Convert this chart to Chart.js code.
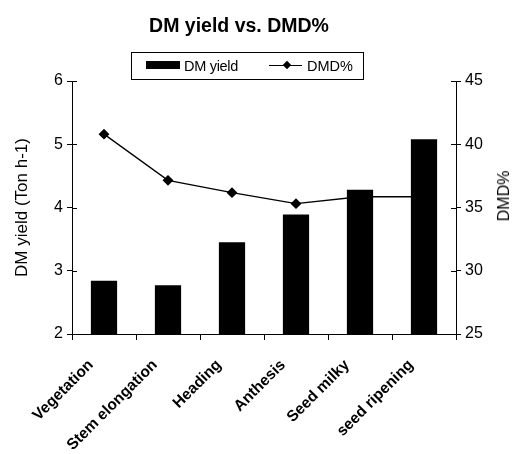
<!DOCTYPE html>
<html><head><meta charset="utf-8">
<script src="https://cdn.jsdelivr.net/npm/chart.js@4/dist/chart.umd.min.js"></script>
<style>
html,body{margin:0;padding:0;background:#fff;}
#wrap{position:relative;width:513px;height:454px;}
#title{position:absolute;left:239px;top:25px;transform:translate(-50%,-50%);font:bold 19.5px "Liberation Sans",Arial,sans-serif;color:#000;white-space:nowrap;line-height:22px;}
#legend{position:absolute;left:131px;top:52px;width:231px;height:26px;border:1px solid #000;background:#fff;font:14.5px "Liberation Sans",Arial,sans-serif;color:#000;}
#legend .bar{position:absolute;left:14px;top:8px;width:34px;height:8px;background:#000;}
#legend .t1{position:absolute;left:52px;top:5px;line-height:16px;letter-spacing:-0.3px;}
#legend .ln{position:absolute;left:137px;top:12px;width:33px;height:1px;background:#000;}
#legend .dia{position:absolute;left:152px;top:9px;width:6px;height:6px;background:#000;transform:rotate(45deg);}
#legend .t2{position:absolute;left:175px;top:5px;line-height:16px;}
#rtitle{position:absolute;left:504px;top:196px;transform:translate(-50%,-50%) rotate(-90deg);font:16px "Liberation Sans",Arial,sans-serif;color:#000;white-space:nowrap;line-height:18px;}
</style></head>
<body><div id="wrap"><canvas id="c" width="513" height="454"></canvas>
<div id="title">DM yield vs. DMD%</div>
<div id="legend"><span class="bar"></span><span class="t1">DM yield</span><span class="ln"></span><span class="dia"></span><span class="t2">DMD%</span></div>
<div id="rtitle">DMD%</div></div>
<script>
const categories = ['Vegetation', 'Stem elongation', 'Heading', 'Anthesis', 'Seed milky', 'seed ripening'];
const dmYield = [2.84, 2.77, 3.45, 3.89, 4.28, 5.08];
const dmdPercent = [40.8, 37.15, 36.17, 35.3, 35.85, 35.85];
const leftTicks = [2, 3, 4, 5, 6];
const rightTicks = [25, 30, 35, 40, 45];

const FONT = '"Liberation Sans", Arial, sans-serif';

const innerTicks = {
  id: 'innerTicks',
  afterDraw(chart) {
    const ctx = chart.ctx;
    ctx.save();
    ctx.strokeStyle = '#000';
    ctx.lineWidth = 1;
    const ys = chart.scales.y, yr = chart.scales.y1;
    ys.ticks.forEach(t => {
      const p = Math.round(ys.getPixelForValue(t.value)) + 0.5;
      ctx.beginPath(); ctx.moveTo(ys.right, p); ctx.lineTo(ys.right + 5, p); ctx.stroke();
    });
    yr.ticks.forEach(t => {
      const p = Math.round(yr.getPixelForValue(t.value)) + 0.5;
      ctx.beginPath(); ctx.moveTo(yr.left, p); ctx.lineTo(yr.left - 5, p); ctx.stroke();
    });
    ctx.restore();
  }
};

new Chart(document.getElementById('c'), {
  type: 'bar',
  data: {
    labels: categories,
    datasets: [
      {
        type: 'bar', label: 'DM yield', data: dmYield, yAxisID: 'y', order: 1,
        backgroundColor: '#000', borderColor: '#000', borderWidth: 0,
        categoryPercentage: 1.0, barPercentage: 0.41
      },
      {
        type: 'line', label: 'DMD%', data: dmdPercent, yAxisID: 'y1', order: 2,
        borderColor: '#000', borderWidth: 1.3, tension: 0, fill: false,
        pointStyle: 'rectRot', pointRadius: 4.5, pointBackgroundColor: '#000', pointBorderColor: '#000'
      }
    ]
  },
  options: {
    responsive: false, animation: false, devicePixelRatio: 1,
    layout: { padding: { left: 0, right: 0, top: 81, bottom: 0 } },
    plugins: {
      legend: { display: false },
      tooltip: { enabled: false },
      title: { display: false }
    },
    scales: {
      x: {
        grid: { display: true, drawOnChartArea: false, tickLength: 6, color: '#000', offset: true },
        border: { color: '#000' },
        ticks: { color: '#000', font: { family: FONT, size: 15.5, weight: 'bold' }, maxRotation: 45, minRotation: 45, autoSkip: false, padding: 16, labelOffset: -13 },
        afterFit: s => { s.height = 120; }
      },
      y: {
        position: 'left', min: 2, max: 6,
        afterBuildTicks: s => { s.ticks = leftTicks.map(v => ({ value: v })); },
        grid: { display: true, drawOnChartArea: false, tickLength: 5, color: '#000' },
        border: { color: '#000' },
        ticks: { color: '#000', font: { family: FONT, size: 16 }, padding: 4 },
        title: { display: true, text: 'DM yield (Ton h-1)', color: '#000', font: { family: FONT, size: 17 }, padding: { top: 12, bottom: 0 } },
        afterFit: s => { s.width = 72; }
      },
      y1: {
        position: 'right', min: 25, max: 45,
        afterBuildTicks: s => { s.ticks = rightTicks.map(v => ({ value: v })); },
        grid: { display: true, drawOnChartArea: false, tickLength: 5, color: '#000' },
        border: { color: '#000' },
        ticks: { color: '#000', font: { family: FONT, size: 16 }, padding: 4 },
        afterFit: s => { s.width = 57; }
      }
    }
  },
  plugins: [innerTicks]
});
</script>
</body></html>
